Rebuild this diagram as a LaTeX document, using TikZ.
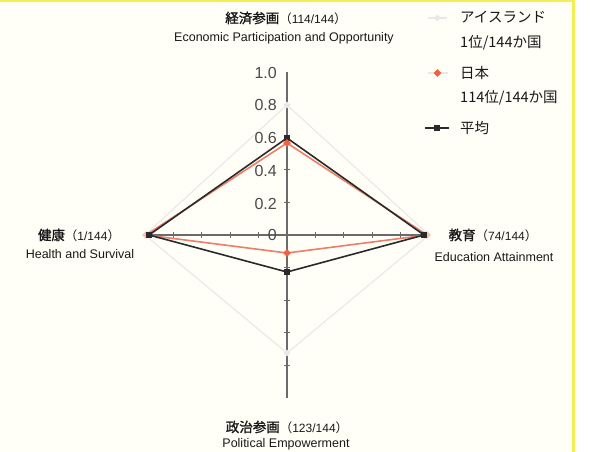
\documentclass[tikz,border=0pt]{standalone}
\usepackage{fontspec}
\setmainfont{Liberation Sans}
\newfontfamily\jp{Noto Sans CJK JP}
\newfontfamily\jpb[FakeBold=1.4]{Noto Sans CJK JP}
\usetikzlibrary{shapes.geometric}
\definecolor{bgc}{HTML}{FFFFF7}
\definecolor{yel}{HTML}{F5EE50}
\definecolor{axc}{HTML}{6A6A6A}
\definecolor{numc}{HTML}{4A4A4A}
\definecolor{jpc}{HTML}{F2603F}
\definecolor{jpl}{HTML}{EE7D68}
\definecolor{avc}{HTML}{2A2A2A}
\definecolor{icc}{HTML}{E8E8E8}
\tikzset{
  axisline/.style={axc, line width=1.4pt},
  tickline/.style={axc, line width=0.9pt},
  numlabel/.style={anchor=east, inner sep=0pt, text=numc, font=\fontsize{16}{18}\selectfont},
  ttl/.style={inner sep=0pt, text=black!90},
  eng/.style={inner sep=0pt, text=black!90, font=\fontsize{12.5}{14}\selectfont},
  legtxt/.style={anchor=west, inner sep=0pt, text=black!90, font=\jp\fontsize{14.5}{17}\selectfont},
  icline/.style={icc, line width=1.1pt, line join=round},
  jpline/.style={jpl, line width=1.6pt, line join=round},
  avline/.style={avc, line width=1.6pt, line join=round},
  icmark/.style={diamond, fill=icc, minimum size=7pt, inner sep=0pt},
  jpmark/.style={diamond, fill=jpc, minimum size=8pt, inner sep=0pt},
  avmark/.style={rectangle, fill=avc, minimum size=6pt, inner sep=0pt},
}
\newcommand{\jt}[2]{{\jpb\fontsize{13.5}{16}\selectfont #1}{\jp\fontsize{12.5}{15}\selectfont （}{\fontsize{12}{15}\selectfont #2}{\jp\fontsize{12.5}{15}\selectfont ）}}
\begin{document}
\begin{tikzpicture}[x=1pt,y=-1pt]
\useasboundingbox (0,0) rectangle (595,452);
\fill[bgc] (0,0) rectangle (595,452);
\fill[white] (574,0) rectangle (595,452);
\fill[yel] (0,0) rectangle (574,2.5);
\fill[yel] (572,0) rectangle (574.5,452);

% axis end points
\coordinate (C) at (287,235);
\coordinate (AT) at (287,72);
\coordinate (AB) at (287,398);
\coordinate (AL) at (147,235);
\coordinate (AR) at (426,235);

% Iceland
\coordinate (iT) at (287,105);
\coordinate (iR) at (429,235);
\coordinate (iB) at (287,353);
\coordinate (iL) at (145,235);
\draw[icline] (iT) -- (iR) -- (iB) -- (iL) -- cycle;

% axes
\draw[axisline] (AT) -- (AB);
\draw[axisline] (AL) -- (AR);
\foreach \v in {0.2,0.4,0.6,0.8}{
  \draw[tickline] (284,{235-163*\v}) -- (290,{235-163*\v});
  \draw[tickline] (284,{235+163*\v}) -- (290,{235+163*\v});
  \draw[tickline] ({287-142*\v},232) -- ({287-142*\v},238);
  \draw[tickline] ({287+142*\v},232) -- ({287+142*\v},238);
}
\node[numlabel] (n10) at (277,73) {1.0};
\node[numlabel] (n08) at (277,105) {0.8};
\node[numlabel] (n06) at (277,138) {0.6};
\node[numlabel] (n04) at (277,171) {0.4};
\node[numlabel] (n02) at (277,204) {0.2};
\node[numlabel] (n00) at (277,235) {0};

% Japan
\coordinate (jT) at (287,143);
\coordinate (jR) at (427,235);
\coordinate (jB) at (287,253);
\coordinate (jL) at (146,235);
\draw[jpline] (jT) -- (jR) -- (jB) -- (jL) -- cycle;

% Average
\coordinate (aT) at (287,138);
\coordinate (aR) at (424,235);
\coordinate (aB) at (287,272);
\coordinate (aL) at (149,235);
\draw[avline] (aT) -- (aR) -- (aB) -- (aL) -- cycle;

\node[icmark] (miT) at (iT) {};
\node[icmark] (miB) at (iB) {};
\node[avmark] (maT) at (aT) {};
\node[avmark] (maB) at (aB) {};
\node[jpmark] (mjT) at (jT) {};
\node[jpmark] (mjB) at (jB) {};
\node[jpmark, fill=jpc!40] (mjL) at (jL) {};
\node[jpmark, fill=jpc!40] (mjR) at (jR) {};
\node[avmark] (maL) at (aL) {};
\node[avmark] (maR) at (aR) {};

% axis labels
\node[ttl] (tE) at (286,18) {\jt{経済参画}{114/144}};
\node[eng] (eE) at (284,38) {Economic Participation and Opportunity};
\node[ttl] (tH) at (79,235) {\jt{健康}{1/144}};
\node[eng] (eH) at (80,254) {Health and Survival};
\node[ttl] (tEd) at (493,235) {\jt{教育}{74/144}};
\node[eng] (eEd) at (494,257) {Education Attainment};
\node[ttl] (tP) at (287,427) {\jt{政治参画}{123/144}};
\node[eng] (eP) at (286,444) {Political Empowerment};

% legend
\coordinate (g1a) at (428,18);
\coordinate (g1b) at (447,18);
\draw[icline] (g1a) -- (g1b);
\node[icmark] (g1m) at (437.5,18) {};
\node[legtxt] (g1t) at (460,17) {アイスランド};
\node[legtxt] (g1s) at (460,43) {1位/144か国};

\coordinate (g2a) at (428,73);
\coordinate (g2b) at (448,73);
\draw[icc, line width=1.2pt] (g2a) -- (g2b);
\node[jpmark] (g2m) at (437.5,73) {};
\node[legtxt] (g2t) at (460,73) {日本};
\node[legtxt] (g2s) at (460,98) {114位/144か国};

\coordinate (g3a) at (425,128);
\coordinate (g3b) at (449,128);
\draw[avc, line width=1.4pt] (g3a) -- (g3b);
\node[avmark] (g3m) at (437,128) {};
\node[legtxt] (g3t) at (460,128) {平均};
\end{tikzpicture}
\end{document}
